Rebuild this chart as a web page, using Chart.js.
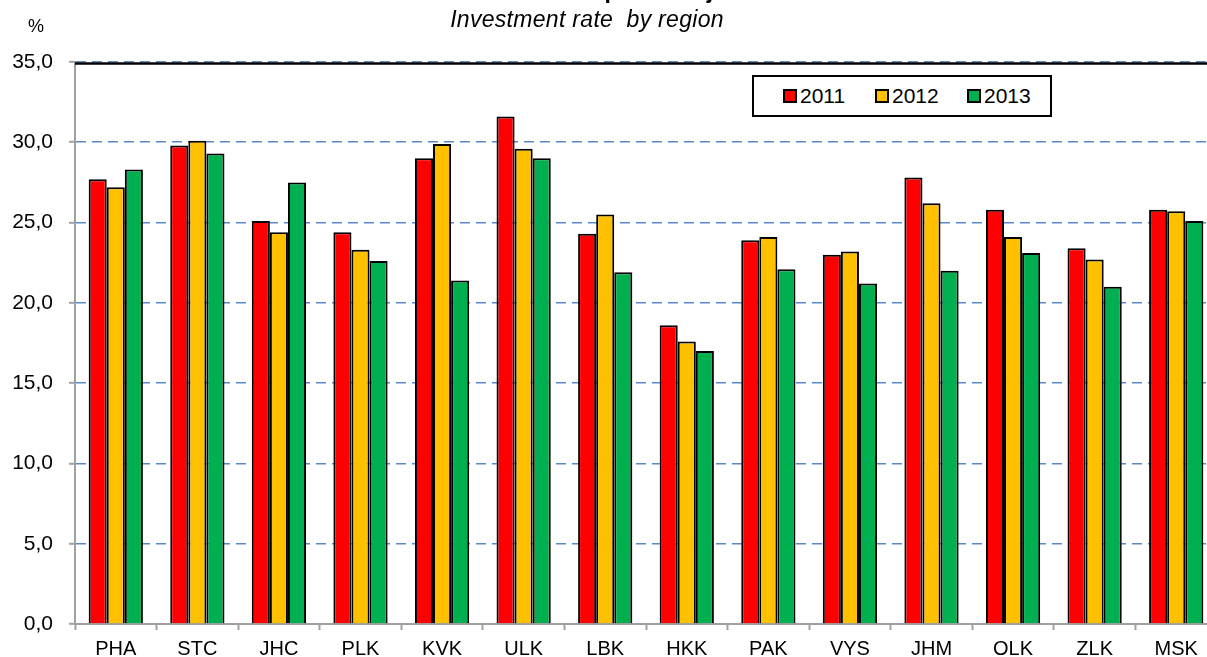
<!DOCTYPE html>
<html>
<head>
<meta charset="utf-8">
<script src="https://cdn.jsdelivr.net/npm/chart.js@4"></script>
<style>
  html, body { margin: 0; padding: 0; background: #fff; overflow: hidden; }
  body { width: 1207px; height: 657px; position: relative; font-family: "Liberation Sans", Arial, sans-serif; }
  #wrap { position: absolute; left: 0; top: 0; width: 1218px; height: 657px; }
  .txt { position: absolute; white-space: nowrap; color: #000; }
  #title { font-weight: bold; font-size: 23px; line-height: 23px; top: -21px; left: 593px; transform: translateX(-50%); }
  #subtitle { font-style: italic; font-size: 23px; line-height: 23px; top: 8px; left: 587px; transform: translateX(-50%); letter-spacing: 0.3px; }
  #unit { font-size: 18px; line-height: 18px; top: 17px; left: 28px; }
  #legend { position: absolute; left: 752px; top: 75px; width: 296px; height: 38px; border: 2px solid #000; background: #fff; }
  .item { position: absolute; top: 0; height: 38px; display: flex; align-items: center; font-size: 21px; }
  .sw { width: 10px; height: 10px; border: 2px solid #000; margin-right: 3px; }
</style>
</head>
<body>
<div id="wrap"><canvas id="c"></canvas></div>
<div class="txt" id="title">Míra investic podle krajů</div>
<div class="txt" id="subtitle">Investment rate&nbsp; by region</div>
<div class="txt" id="unit">%</div>
<div id="legend"></div>
<script>
const categories = ['PHA','STC','JHC','PLK','KVK','ULK','LBK','HKK','PAK','VYS','JHM','OLK','ZLK','MSK'];
const seriesNames = ['2011', '2012', '2013'];
const v2011 = [27.7, 29.8, 25.1, 24.4, 29.0, 31.6, 24.3, 18.6, 23.9, 23.0, 27.8, 25.8, 23.4, 25.8];
const v2012 = [27.2, 30.1, 24.4, 23.3, 29.9, 29.6, 25.5, 17.6, 24.1, 23.2, 26.2, 24.1, 22.7, 25.7];
const v2013 = [28.3, 29.3, 27.5, 22.6, 21.4, 29.0, 21.9, 17.0, 22.1, 21.2, 22.0, 23.1, 21.0, 25.1];
const seriesColors = ['#FF0000', '#FFC000', '#00B050'];
const yMin = 0, yMax = 35, yStep = 5;

const values = [v2011, v2012, v2013];

// HTML legend
const leg = document.getElementById('legend');
seriesNames.forEach((n, i) => {
  const it = document.createElement('div');
  it.className = 'item';
  it.style.left = (29 + i * 92) + 'px';
  const sw = document.createElement('div');
  sw.className = 'sw';
  sw.style.background = seriesColors[i];
  const t = document.createElement('span');
  t.textContent = n;
  it.appendChild(sw); it.appendChild(t);
  leg.appendChild(it);
});

const topLine = {
  id: 'topLine',
  afterDatasetsDraw(chart) {
    const {ctx, chartArea} = chart;
    ctx.save();
    ctx.strokeStyle = '#000';
    ctx.lineWidth = 2.5;
    ctx.beginPath();
    ctx.moveTo(chartArea.left, chartArea.top + 1.5);
    ctx.lineTo(chartArea.right, chartArea.top + 1.5);
    ctx.stroke();
    ctx.restore();
  }
};

const fontX = { family: "'Liberation Sans', Arial, sans-serif", size: 20 };
const fontY = { family: "'Liberation Sans', Arial, sans-serif", size: 21 };

new Chart(document.getElementById('c'), {
  type: 'bar',
  data: {
    labels: categories,
    datasets: seriesNames.map((n, i) => ({
      label: n,
      data: values[i],
      backgroundColor: seriesColors[i],
      borderColor: '#000',
      borderWidth: 2,
      borderSkipped: 'bottom',
      categoryPercentage: 0.665,
      barPercentage: 1.0
    }))
  },
  options: {
    responsive: true,
    maintainAspectRatio: false,
    animation: false,
    layout: { padding: { top: 62, right: 1, left: 0, bottom: 0 } },
    plugins: { legend: { display: false }, title: { display: false }, tooltip: { enabled: false } },
    scales: {
      x: {
        offset: true,
        grid: { display: true, drawOnChartArea: false, drawTicks: true, tickLength: 6, tickColor: '#A0A0A0', tickWidth: 2 },
        border: { display: true, color: '#A0A0A0', width: 2 },
        ticks: { font: fontX, color: '#000', padding: 7, maxRotation: 0, autoSkip: false },
        afterFit(scale) { scale.height = 33; }
      },
      y: {
        min: yMin, max: yMax,
        grid: {
          drawTicks: true, tickLength: 6, tickColor: '#A0A0A0', tickWidth: 2,
          color: ctx => (ctx.tick && ctx.tick.value === 0) ? 'rgba(0,0,0,0)' : '#5B8AC9',
          lineWidth: 1.6
        },
        border: { display: true, color: '#A0A0A0', width: 2, dash: [10, 6] },
        ticks: {
          stepSize: yStep, font: fontY, color: '#000', padding: 16,
          callback: v => v.toFixed(1).replace('.', ',')
        },
        afterFit(scale) { scale.width = 75; }
      }
    }
  },
  plugins: [topLine]
});
</script>
</body>
</html>
